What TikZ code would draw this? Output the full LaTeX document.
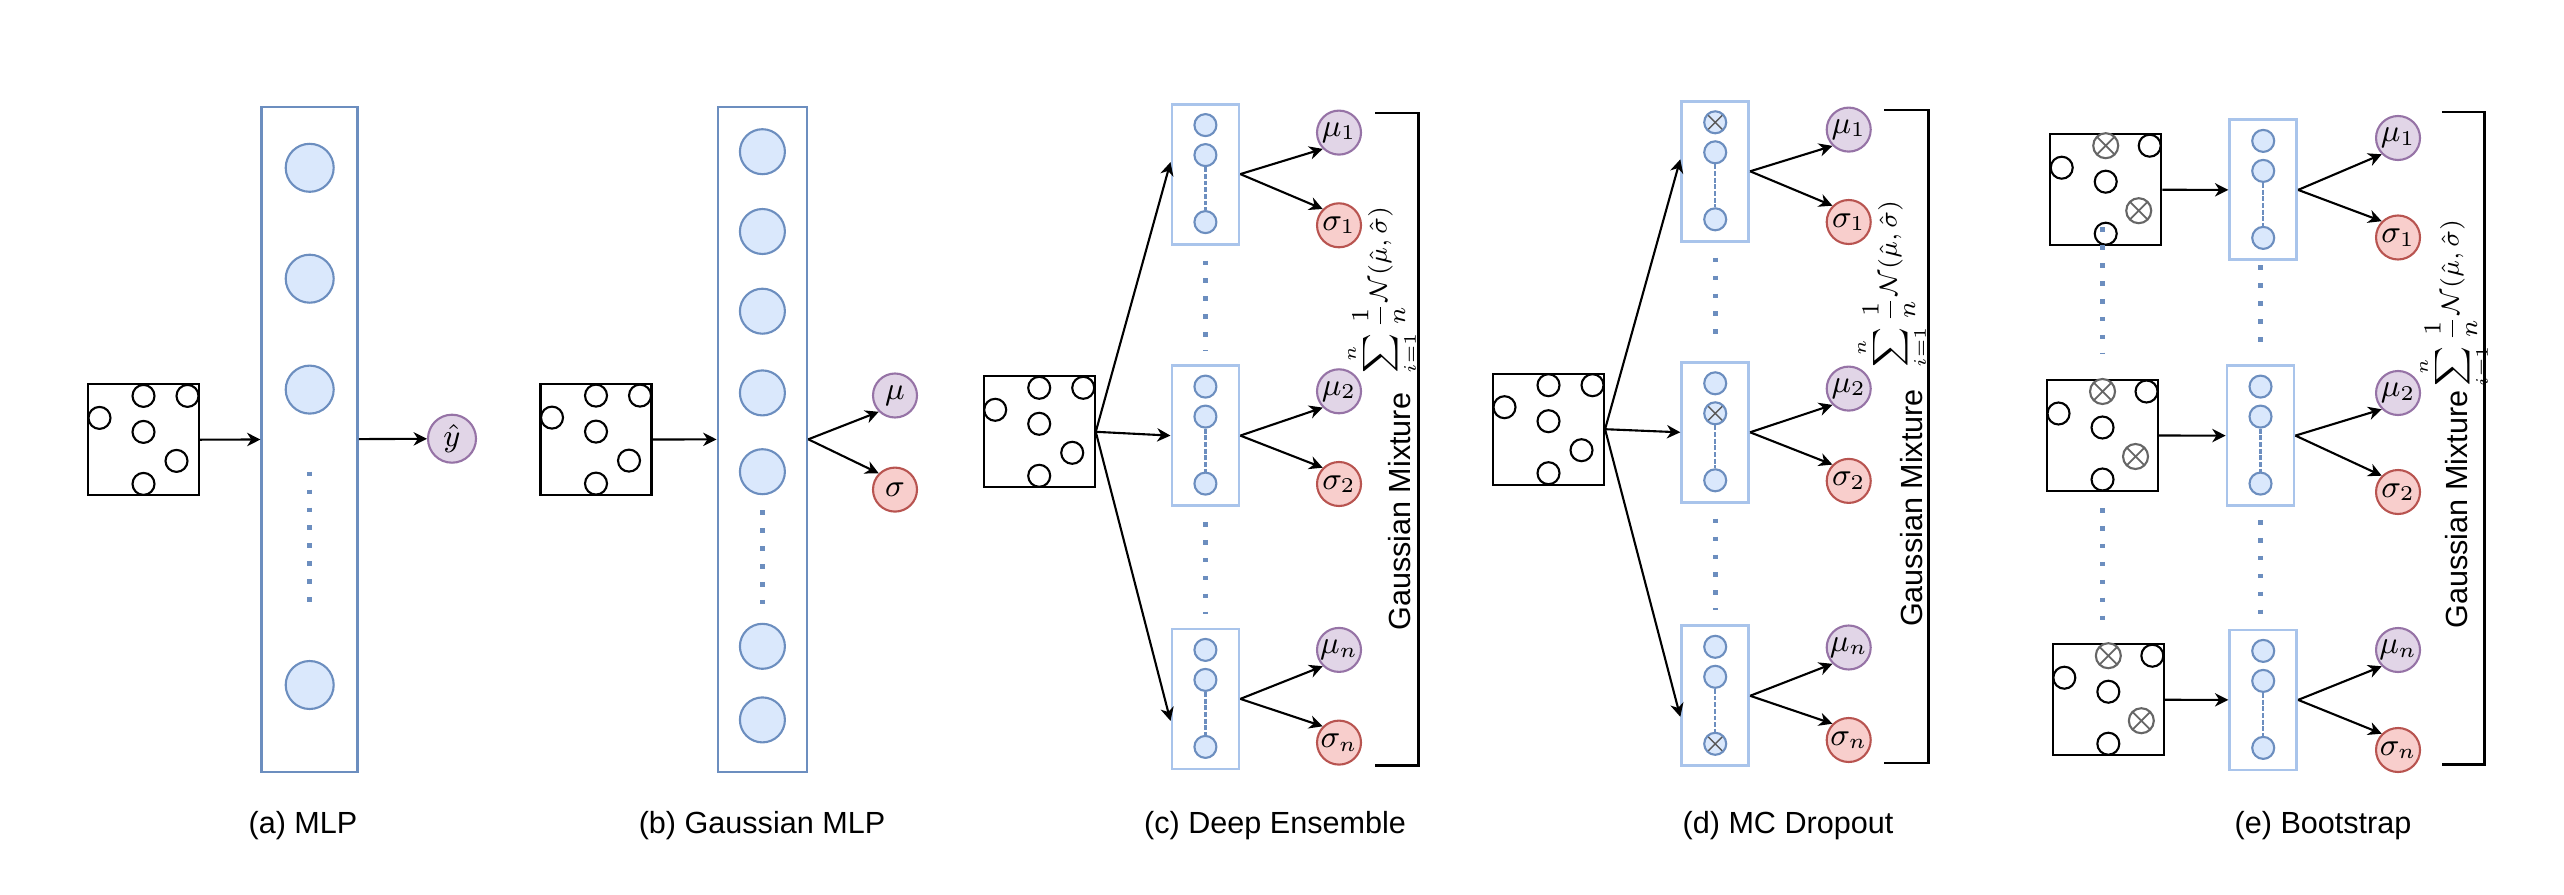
\documentclass[tikz,border=0pt]{standalone}
\usepackage{amsmath}
\usepackage[no-math]{fontspec}
\newfontfamily\sansfont{Liberation Sans}
\usetikzlibrary{arrows.meta}

\definecolor{nodeblue}{HTML}{6C8EBF}
\definecolor{nodefill}{HTML}{DAE8FC}
\definecolor{netblue}{HTML}{A9C4EB}
\definecolor{mufill}{HTML}{E1D5E7}
\definecolor{muline}{HTML}{9673A6}
\definecolor{sigfill}{HTML}{F8CECC}
\definecolor{sigline}{HTML}{B85450}

\tikzset{
  databox/.style={draw, line width=0.6pt, minimum size=1.11cm, inner sep=0pt},
  samplept/.style={circle, draw, fill=white, line width=0.6pt, minimum size=0.22cm, inner sep=0pt},
  dropped/.style={circle, draw=black!60, fill=white, line width=0.6pt, minimum size=0.25cm, inner sep=0pt,
    path picture={\draw[black!60, line width=0.5pt] (path picture bounding box.center)
      +(45:0.125) -- +(225:0.125) +(135:0.125) -- +(315:0.125);}},
  layerbox/.style={draw=nodeblue, line width=0.7pt, minimum width=0.96cm, minimum height=6.65cm, inner sep=0pt},
  neuron/.style={circle, draw=nodeblue, fill=nodefill, line width=0.6pt, minimum size=0.48cm, inner sep=0pt},
  smallneuron/.style={neuron, minimum size=0.22cm},
  xneuron/.style={smallneuron,
    path picture={\draw[black!65, line width=0.4pt] (path picture bounding box.center)
      +(45:0.11) -- +(225:0.11) +(135:0.11) -- +(315:0.11);}},
  netbox/.style={draw=netblue, line width=0.8pt, minimum width=0.67cm, minimum height=1.40cm, inner sep=0pt},
  meannode/.style={circle, draw=muline, fill=mufill, line width=0.6pt, minimum size=0.44cm, inner sep=0pt,
    font=\fontsize{9}{10}\selectfont},
  signode/.style={meannode, draw=sigline, fill=sigfill},
  arrowline/.style={-{Stealth[length=3.8pt,width=3.8pt,inset=1.2pt]}, line width=0.6pt},
  dotline/.style={draw=nodeblue, line width=1.3pt, dash pattern=on 1.3pt off 3.8pt},
  innerline/.style={draw=nodeblue, line width=0.7pt, dash pattern=on 1.4pt off 0.5pt},
  captiontext/.style={font=\sansfont\fontsize{8.7}{10}\selectfont},
  sumtext/.style={rotate=90, font=\fontsize{7}{8}\selectfont},
}

\newcommand{\databox}[4]{%
  \node[databox] (#1) at #2 {};
  \node[samplept] (#1-1) at ([shift={(-0.44,0.22)}]#1.center) {};
  \node[#3] (#1-2) at ([shift={(0,0.44)}]#1.center) {};
  \node[samplept] (#1-3) at ([shift={(0.44,0.44)}]#1.center) {};
  \node[samplept] (#1-4) at ([shift={(0,0.08)}]#1.center) {};
  \node[#4] (#1-5) at ([shift={(0.33,-0.21)}]#1.center) {};
  \node[samplept] (#1-6) at ([shift={(0,-0.44)}]#1.center) {};
}

\newcommand{\subnet}[5]{%
  \node[netbox] (#1) at #2 {};
  \node[#3] (#1-1) at ([yshift=0.49cm]#1.center) {};
  \node[#4] (#1-2) at ([yshift=0.19cm]#1.center) {};
  \node[#5] (#1-3) at ([yshift=-0.48cm]#1.center) {};
  \draw[innerline] (#1-2) -- (#1-3);
}

\begin{document}
\begin{tikzpicture}
\useasboundingbox (0,0) rectangle (25.64,8.94);

\databox{A}{(1.435,4.541)}{samplept}{samplept}
\node[layerbox] (LA) at (3.097,4.547) {};
\node[neuron] (A1) at (3.097,7.262) {};
\node[neuron] (A2) at (3.097,6.153) {};
\node[neuron] (A3) at (3.097,5.044) {};
\node[neuron] (A4) at (3.097,2.090) {};
\draw[dotline, shorten <=0.57cm, shorten >=0.45cm] (A3) -- (A4);
\node[meannode, minimum size=0.48cm] (Y) at (4.52,4.553) {$\hat{y}$};
\draw[arrowline] (A) -- (LA);
\draw[arrowline] (LA) -- (Y);
\node[captiontext] (capA) at (3.03,0.68) {(a) MLP};

\databox{B}{(5.96,4.544)}{samplept}{samplept}
\node[layerbox, minimum width=0.893cm] (LB) at (7.624,4.547) {};
\foreach \i/\y in {1/7.423, 2/6.625, 3/5.828, 4/5.011, 5/4.223, 6/2.477, 7/1.741}
  \node[neuron, minimum size=0.45cm] (B\i) at (7.624,\y) {};
\draw[dotline, shorten <=0.15cm, shorten >=0.05cm] (B5) -- (B6);
\node[meannode] (MB) at (8.95,4.985) {$\mu$};
\node[signode] (SB) at (8.95,4.044) {$\sigma$};
\draw[arrowline] (B) -- (LB);
\draw[arrowline] (LB.east) -- (MB.south west);
\draw[arrowline] (LB.east) -- (SB.north west);
\node[captiontext] (capB) at (7.62,0.68) {(b) Gaussian MLP};

\databox{C}{(10.392,4.622)}{samplept}{samplept}
\subnet{C1}{(12.054,7.199)}{smallneuron}{smallneuron}{smallneuron}
\subnet{C2}{(12.054,4.584)}{smallneuron}{smallneuron}{smallneuron}
\subnet{C3}{(12.054,1.951)}{smallneuron}{smallneuron}{smallneuron}
\draw[dotline, shorten <=0.15cm, shorten >=0.14cm] (C1) -- (C2);
\draw[dotline, shorten <=0.15cm, shorten >=0.14cm] (C2) -- (C3);
\draw[arrowline] (C.east) -- ([yshift=0.12cm]C1.west);
\draw[arrowline] (C.east) -- (C2.west);
\draw[arrowline] (C.east) -- ([yshift=-0.22cm]C3.west);
\foreach \k/\s/\m/\v in {1/1/7.614/6.687, 2/2/5.027/4.100, 3/n/2.441/1.514} {
  \node[meannode] (MC\k) at (13.39,\m) {$\mu_{\s}$};
  \node[signode] (SC\k) at (13.39,\v) {$\sigma_{\s}$};
  \draw[arrowline] (C\k.east) -- (MC\k.south west);
  \draw[arrowline] (C\k.east) -- (SC\k.north west);
}
\draw[line width=0.7pt] (13.75,7.81) -| (14.183,1.283) -- (13.75,1.283);
\node[captiontext, rotate=90] (GC) at (14.00,3.822) {Gaussian Mixture};
\node[sumtext] (FC) at (13.82,6.04) {$\displaystyle\sum_{i=1}^{n}\frac{1}{n}\mathcal{N}(\hat{\mu},\hat{\sigma})$};
\node[captiontext] (capC) at (12.75,0.68) {(c) Deep Ensemble};

\databox{D}{(15.485,4.648)}{samplept}{samplept}
\subnet{D1}{(17.152,7.227)}{xneuron}{smallneuron}{smallneuron}
\subnet{D2}{(17.152,4.617)}{smallneuron}{xneuron}{smallneuron}
\subnet{D3}{(17.152,1.982)}{smallneuron}{smallneuron}{xneuron}
\draw[dotline, shorten <=0.15cm, shorten >=0.14cm] (D1) -- (D2);
\draw[dotline, shorten <=0.15cm, shorten >=0.14cm] (D2) -- (D3);
\draw[arrowline] (D.east) -- ([yshift=0.12cm]D1.west);
\draw[arrowline] (D.east) -- (D2.west);
\draw[arrowline] (D.east) -- ([yshift=-0.21cm]D3.west);
\foreach \k/\s/\m/\v in {1/1/7.644/6.720, 2/2/5.054/4.131, 3/n/2.465/1.540} {
  \node[meannode] (MD\k) at (18.487,\m) {$\mu_{\s}$};
  \node[signode] (SD\k) at (18.487,\v) {$\sigma_{\s}$};
  \draw[arrowline] (D\k.east) -- (MD\k.south west);
  \draw[arrowline] (D\k.east) -- (SD\k.north west);
}
\draw[line width=0.7pt] (18.84,7.838) -| (19.283,1.311) -- (18.84,1.311);
\node[captiontext, rotate=90] (GD) at (19.117,3.86) {Gaussian Mixture};
\node[sumtext] (FD) at (18.92,6.10) {$\displaystyle\sum_{i=1}^{n}\frac{1}{n}\mathcal{N}(\hat{\mu},\hat{\sigma})$};
\node[captiontext] (capD) at (17.88,0.68) {(d) MC Dropout};

\databox{E1}{(21.057,7.043)}{dropped}{dropped}
\databox{E2}{(21.025,4.585)}{dropped}{dropped}
\databox{E3}{(21.083,1.943)}{dropped}{dropped}
\draw[dotline, shorten <=-0.19cm, shorten >=0.26cm] (E2.north |- E1.south) -- (E2.north);
\draw[dotline, shorten <=0.16cm, shorten >=0.12cm] (E2.south) -- (E2.south |- E3.north);
\subnet{N1}{(22.632,7.041)}{smallneuron}{smallneuron}{smallneuron}
\subnet{N2}{(22.605,4.584)}{smallneuron}{smallneuron}{smallneuron}
\subnet{N3}{(22.632,1.941)}{smallneuron}{smallneuron}{smallneuron}
\draw[dotline, shorten <=0.04cm, shorten >=0.12cm] (N2.north |- N1.south) -- (N2.north);
\draw[dotline, shorten <=0.13cm, shorten >=0.02cm] (N2.south) -- (N2.south |- N3.north);
\foreach \k in {1,2,3}
  \draw[arrowline] (E\k) -- (N\k);
\foreach \k/\s/\m/\v in {1/1/7.56/6.565, 2/2/5.01/4.02, 3/n/2.44/1.44} {
  \node[meannode] (ME\k) at (23.98,\m) {$\mu_{\s}$};
  \node[signode] (SE\k) at (23.98,\v) {$\sigma_{\s}$};
  \draw[arrowline] (N\k.east) -- (ME\k.south west);
  \draw[arrowline] (N\k.east) -- (SE\k.north west);
}
\draw[line width=0.7pt] (24.418,7.82) -| (24.846,1.297) -- (24.418,1.297);
\node[captiontext, rotate=90] (GE) at (24.57,3.845) {Gaussian Mixture};
\node[sumtext] (FE) at (24.54,5.91) {$\displaystyle\sum_{i=1}^{n}\frac{1}{n}\mathcal{N}(\hat{\mu},\hat{\sigma})$};
\node[captiontext] (capE) at (23.23,0.68) {(e) Bootstrap};
\end{tikzpicture}
\end{document}
